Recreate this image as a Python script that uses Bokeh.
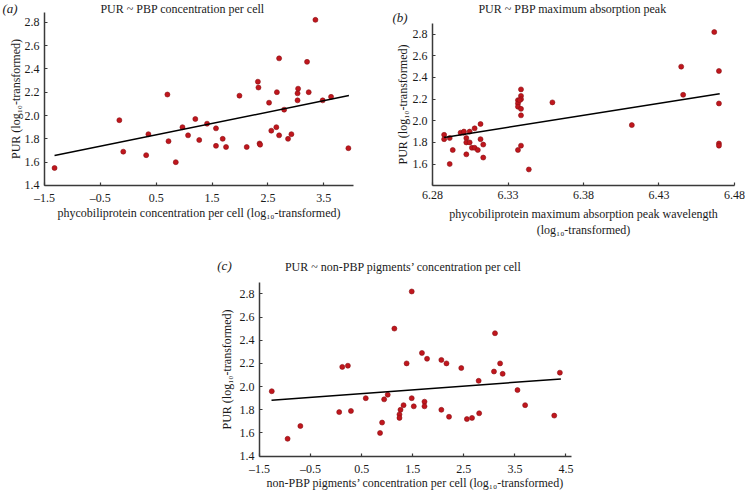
from bokeh.plotting import figure
from bokeh.models import FixedTicker, Label, Spacer, Range1d
from bokeh.layouts import column, row
from bokeh.embed import file_html
from bokeh.resources import INLINE

# ---------------- data ----------------
y_ticks = [1.4, 1.6, 1.8, 2.0, 2.2, 2.4, 2.6, 2.8]
y_tick_labels = ["1.4", "1.6", "1.8", "2.0", "2.2", "2.4", "2.6", "2.8"]

a_x_ticks = [-1.5, -0.5, 0.5, 1.5, 2.5, 3.5]
a_x_tick_labels = ["\u20131.5", "\u20130.5", "0.5", "1.5", "2.5", "3.5"]
b_x_ticks = [6.28, 6.33, 6.38, 6.43, 6.48]
b_x_tick_labels = ["6.28", "6.33", "6.38", "6.43", "6.48"]
c_x_ticks = [-1.5, -0.5, 0.5, 1.5, 2.5, 3.5, 4.5]
c_x_tick_labels = ["\u20131.5", "\u20130.5", "0.5", "1.5", "2.5", "3.5", "4.5"]

# (a) PUR ~ PBP concentration per cell
a_x = [-1.32, -0.16, -0.09, 0.32, 0.36, 0.70, 0.72, 0.85, 0.97, 1.07, 1.20, 1.27, 1.41,
       1.57, 1.57, 1.69, 1.75, 1.99, 2.12, 2.32, 2.33, 2.35, 2.36, 2.52, 2.56, 2.65, 2.66,
       2.70, 2.70, 2.79, 2.86, 2.92, 3.03, 3.03, 3.04, 3.20, 3.23, 3.35, 3.48, 3.63, 3.94]
a_y = [1.55, 1.96, 1.69, 1.66, 1.84, 2.18, 1.78, 1.60, 1.90, 1.83, 1.97, 1.79, 1.93,
       1.89, 1.74, 1.80, 1.73, 2.17, 1.73, 2.29, 2.24, 1.76, 1.75, 2.11, 1.87, 1.90, 2.20,
       2.49, 1.83, 2.05, 1.80, 1.84, 2.13, 2.19, 2.23, 2.46, 2.20, 2.82, 2.13, 2.16, 1.72]
a_fit_x = [-1.32, 3.95]
a_fit_y = [1.657, 2.171]

# (b) PUR ~ PBP maximum absorption peak
b_x = [6.2877, 6.2877, 6.2914, 6.2914, 6.2934, 6.2986, 6.3006, 6.3008, 6.3024, 6.3024,
       6.3024, 6.3046, 6.3046, 6.3061, 6.3079, 6.3079, 6.3100, 6.3118, 6.3118, 6.3136,
       6.3136, 6.3366, 6.3366, 6.3366, 6.3366, 6.3386, 6.3386, 6.3386, 6.3386, 6.3386,
       6.3386, 6.3377, 6.3438, 6.3594, 6.4120, 6.4447, 6.4460, 6.4666, 6.4697, 6.4697,
       6.4697, 6.4697]
b_y = [1.87, 1.83, 1.84, 1.60, 1.73, 1.89, 1.89, 1.90, 1.84, 1.80,
       1.69, 1.90, 1.80, 1.75, 1.75, 1.93, 1.73, 1.97, 1.83, 1.78,
       1.66, 1.73, 2.19, 2.16, 2.13, 2.29, 2.23, 2.20, 2.11, 2.05,
       1.77, 2.19, 1.55, 2.17, 1.96, 2.50, 2.24, 2.82, 2.46, 2.16,
       1.79, 1.77]
b_fit_x = [6.2877, 6.4702]
b_fit_y = [1.846, 2.249]

# (c) PUR ~ non-PBP pigments' concentration per cell
c_x = [-1.26, -0.95, -0.70, 0.06, 0.12, 0.23, 0.29, 0.58, 0.86, 0.90, 0.94, 1.01, 1.14,
       1.24, 1.24, 1.26, 1.32, 1.38, 1.48, 1.48, 1.52, 1.68, 1.73, 1.73, 1.78, 2.06, 2.06,
       2.16, 2.21, 2.45, 2.56, 2.66, 2.79, 2.80, 3.09, 3.11, 3.21, 3.26, 3.55, 3.70, 4.27, 4.38]
c_y = [1.96, 1.55, 1.66, 1.78, 2.17, 2.18, 1.79, 1.90, 1.60, 1.69, 1.89, 1.93, 2.50,
       1.76, 1.73, 1.80, 1.84, 2.20, 2.82, 1.90, 1.83, 2.29, 1.87, 1.83, 2.24, 2.23, 1.80,
       2.20, 1.74, 2.16, 1.72, 1.73, 2.05, 1.77, 2.13, 2.46, 2.20, 2.11, 1.97, 1.84, 1.75, 2.12]
c_fit_x = [-1.265, 4.40]
c_fit_y = [1.883, 2.066]

# ---------------- style / geometry ----------------
FONT = "Liberation Serif"
POINT_FILL = "#c0161d"
POINT_LINE = "#8a1014"
AXIS_COLOR = "#3a3a3a"
TEXT_COLOR = "#1a1a1a"


def span(v0, p0, v1, p1, e0, e1):
    # data values at pixel positions e0, e1, from two reference ticks (value, pixel)
    k = (v1 - v0) / (p1 - p0)
    lo, hi = v0 + (e0 - p0) * k, v0 + (e1 - p0) * k
    eps = abs(hi - lo) * 1e-5
    return (lo - eps, hi + eps) if hi > lo else (lo + eps, hi - eps)


def style_axis(ax):
    ax.axis_line_color = AXIS_COLOR
    ax.axis_line_width = 1.5
    ax.major_tick_line_color = AXIS_COLOR
    ax.major_tick_line_width = 1.2
    ax.major_tick_in = 3
    ax.major_tick_out = 0
    ax.minor_tick_line_color = None
    ax.major_label_text_font = FONT
    ax.major_label_text_font_size = "12px"
    ax.major_label_text_color = TEXT_COLOR
    ax.axis_label_text_font = FONT
    ax.axis_label_text_font_size = "12px"
    ax.axis_label_text_font_style = "normal"
    ax.axis_label_text_color = TEXT_COLOR


def make_panel(ox, oy, width, height, borders, xref, yref, xticks, xlabels, xlabel, ylabel,
               x_standoff, y_standoff, xs, ys, fx, fy):
    left, right, top, bottom = borders
    fr, fb = width - right, height - bottom
    (xv0, xp0), (xv1, xp1) = xref
    (yv0, yp0), (yv1, yp1) = yref
    xr = span(xv0, xp0 - ox, xv1, xp1 - ox, left, fr)
    ylo, yhi = span(yv0, yp0 - oy, yv1, yp1 - oy, fb, top)
    p = figure(width=width, height=height, x_range=Range1d(*xr), y_range=Range1d(ylo, yhi),
               output_backend="svg", toolbar_location=None,
               min_border_left=left, min_border_right=right,
               min_border_top=top, min_border_bottom=bottom)
    p.grid.visible = False
    p.outline_line_color = None
    p.background_fill_color = "white"
    p.border_fill_color = "white"
    style_axis(p.xaxis[0])
    style_axis(p.yaxis[0])
    p.xaxis[0].ticker = FixedTicker(ticks=xticks, minor_ticks=[])
    p.xaxis[0].major_label_overrides = dict(zip(xticks, xlabels))
    p.yaxis[0].ticker = FixedTicker(ticks=y_ticks, minor_ticks=[])
    p.yaxis[0].major_label_overrides = dict(zip(y_ticks, y_tick_labels))
    p.xaxis[0].axis_label = xlabel
    p.yaxis[0].axis_label = ylabel
    p.xaxis[0].axis_label_standoff = x_standoff
    p.yaxis[0].axis_label_standoff = y_standoff

    p.scatter(xs, ys, size=5, fill_color=POINT_FILL, line_color=POINT_LINE, line_width=0.6)
    p.line(fx, fy, line_color="black", line_width=1.5)
    return p


def side_label(p, side, text, x, y, size="12px", style="normal"):
    # label living in a side panel (not clipped); x, y are screen offsets from that panel
    p.add_layout(Label(x=x, y=y, x_units="screen", y_units="screen", text=text,
                       text_align="center", text_baseline="middle", text_font=FONT,
                       text_font_size=size, text_font_style=style, text_color=TEXT_COLOR), side)


SUB = "log\u2081\u2080"
ylab = "PUR (" + SUB + "-transformed)"

# figure origins (page pixels)
A_OX, A_OY = 0, 0
B_OX, B_OY = 370, 0
C_OX, C_OY = 180, 250

pa = make_panel(A_OX, A_OY, 370, 250, (44, 17, 12, 65),
                ((-1.5, 44), (3.5, 323.3)), ((2.8, 21.7), (1.4, 185)),
                a_x_ticks, a_x_tick_labels,
                "phycobiliprotein concentration per cell (" + SUB + "-transformed)", ylab,
                -2, -1, a_x, a_y, a_fit_x, a_fit_y)
# title kept in the bottom stack (under the x axis) and drawn up at the top of the canvas
side_label(pa, "below", "PUR ~ PBP concentration per cell", 182 - 44, 227.5)
side_label(pa, "right", "(a)", 9.5 - 353, 185 - 8, "13px", "italic")

pb = make_panel(B_OX, B_OY, 375, 250, (62, 11, 23, 65),
                ((6.28, 432), (6.48, 734)), ((2.8, 33.7), (1.4, 185.2)),
                b_x_ticks, b_x_tick_labels,
                "phycobiliprotein maximum absorption peak wavelength\n(" + SUB + "-transformed)", ylab,
                5, 0, b_x, b_y, b_fit_x, b_fit_y)
side_label(pb, "above", "PUR ~ PBP maximum absorption peak", 572 - 432, 23 - 8.5)
side_label(pb, "left", "(b)", 392.5 - 370, 185 - 17, "13px", "italic")

pc = make_panel(C_OX, C_OY, 420, 243, (79, 29, 32, 37),
                ((-1.5, 259), (4.5, 565.5)), ((2.8, 293.3), (1.4, 455.7)),
                c_x_ticks, c_x_tick_labels,
                "non-PBP pigments\u2019 concentration per cell (" + SUB + "-transformed)", ylab,
                -3, 3, c_x, c_y, c_fit_x, c_fit_y)
side_label(pc, "above", "PUR ~ non-PBP pigments\u2019 concentration per cell", 403 - 259, 282 - 266.7)
side_label(pc, "right", "(c)", 224 - 571, 456 - 265, "13px", "italic")

# each top plot wrapped in its own column so their frames are not aligned to each other
layout = column(row(column(pa), column(pb)), row(Spacer(width=C_OX, height=243), pc))

open("out.html", "w").write(file_html(layout, INLINE))
